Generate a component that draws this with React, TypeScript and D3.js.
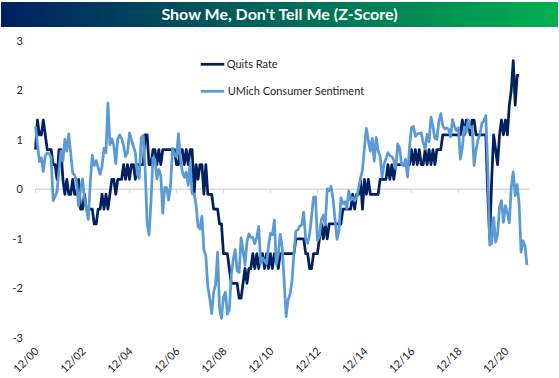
import React from 'react';
import * as d3 from 'd3';

// month index 0 = Dec 2000
const xTickLabels = ['12/00', '12/02', '12/04', '12/06', '12/08', '12/10', '12/12', '12/14', '12/16', '12/18', '12/20'];
const xTickMonths = [0, 24, 48, 72, 96, 120, 144, 168, 192, 216, 240];
const yTicks = [3, 2, 1, 0, -1, -2, -3];
const seriesNames = ['Quits Rate', 'UMich Consumer Sentiment'];

const quits = [
  0.8, 1.4, 1.1, 1.1, 1.4, 1.1, 0.8, 0.8, 0.8, 0.5, 0.5, 0.2,
  0.8, 0.8, 0.2, -0.1, 0.2, -0.1, -0.1, 0.2, -0.1, -0.1, 0.2, -0.4,
  -0.4, -0.1, -0.4, -0.4, -0.4, -0.4, -0.7, -0.7, -0.4, -0.4, -0.1, -0.4,
  -0.1, -0.4, -0.1, 0.2, 0.2, -0.1, 0.2, 0.2, 0.2, 0.5, 0.2, 0.5,
  0.2, 0.5, 0.5, 0.2, 0.5, 0.5, 0.5, 0.5, 1.1, 1.1, 0.5, 0.5,
  0.8, 0.8, 0.5, 0.8, 0.5, 0.8, 0.8, 0.8, 0.8, 0.8, 0.8, 0.8,
  0.5, 0.5, 0.8, 0.8, 0.5, 0.8, 0.5, 0.8, 0.8, -0.1, 0.5, 0.2,
  0.5, 0.5, -0.1, 0.5, -0.1, -0.1, -0.1, -0.4, -0.4, -0.4, -0.7, -0.7,
  -1.3, -1.3, -1.3, -1.6, -1.9, -1.9, -1.9, -1.9, -2.2, -2.2, -1.9, -1.6,
  -1.9, -1.6, -1.6, -1.3, -1.6, -1.3, -1.6, -1.3, -1.3, -1.6, -1.3, -1.6,
  -1.3, -1.6, -1.3, -1.3, -1.6, -1.3, -1.3, -1.3, -1.3, -1.3, -1.3, -1.3,
  -1.3, -1.0, -1.0, -1.0, -1.0, -1.0, -1.3, -1.3, -1.6, -1.6, -1.3, -1.3,
  -1.3, -1.0, -0.7, -1.0, -0.7, -1.0, -0.7, -0.7, -0.7, -0.7, -0.7, -0.7,
  -0.7, -0.4, -0.4, -0.4, -0.4, -0.4, -0.1, -0.4, -0.1, -0.1, 0.2, -0.4,
  0.2, -0.1, 0.2, -0.1, -0.1, -0.1, -0.1, -0.1, 0.2, 0.2, 0.2, 0.2,
  0.5, 0.2, 0.5, 0.2, 0.5, 0.5, 0.5, 0.5, 0.5, 0.5, 0.5, 0.5,
  0.8, 0.5, 0.8, 0.5, 0.8, 0.5, 0.5, 0.8, 0.5, 0.8, 0.5, 0.8,
  0.5, 0.8, 0.8, 0.8, 1.1, 1.1, 1.1, 1.1, 1.1, 1.1, 1.1, 1.1,
  1.1, 1.1, 1.4, 1.1, 1.4, 1.4, 1.1, 1.4, 1.4, 1.1, 1.1, 1.1,
  1.1, 1.1, 1.1, -0.1, -1.0, 0.2, 1.1, 0.8, 0.5, 1.1, 1.4, 1.1,
  1.4, 1.1, 1.7, 2.0, 2.6, 1.7, 2.3, 2.3,
];

const umich = [
  1.26,
  0.92, 0.56, 0.64, 0.36, 0.68, 0.74, 0.72, 0.64, -0.23, -0.15, -0.04, 0.39,
  0.77, 0.57, 1.01, 0.77, 1.12, 0.72, 0.33, 0.29, 0.15, -0.34, -0.02, 0.21,
  -0.18, -0.40, -0.61, 0.14, 0.69, 0.48, 0.58, 0.44, 0.30, 0.47, 0.83, 0.74,
  1.74, 0.90, 1.02, 0.88, 0.52, 1.01, 1.10, 1.03, 0.88, 0.66, 0.75, 1.14,
  1.00, 0.87, 0.74, 0.30, 0.22, 1.04, 1.09, 0.42, -0.67, -0.92, -0.25, 0.64,
  0.61, 0.21, 0.40, 0.27, -0.48, 0.04, 0.03, -0.22, 0.09, 0.83, 0.69, 0.66,
  1.12, 0.62, 0.36, 0.24, 0.35, 0.08, 0.54, -0.09, -0.09, -0.31, -0.75, -0.80,
  -0.54, -1.22, -1.34, -1.96, -2.21, -2.51, -2.08, -1.92, -1.27, -2.41, -2.61, -2.18,
  -2.08, -2.52, -2.43, -1.73, -1.41, -1.22, -1.65, -1.68, -0.98, -1.24, -1.53, -1.07,
  -0.90, -0.97, -0.97, -1.10, -0.97, -0.75, -1.49, -1.39, -1.45, -1.50, -1.15, -0.89,
  -0.92, -0.62, -1.52, -1.31, -0.91, -1.16, -1.86, -2.57, -2.24, -2.12, -1.86, -1.30,
  -0.84, -0.82, -0.74, -0.72, -0.46, -1.01, -1.09, -0.91, -0.55, -0.16, -0.15, -1.03,
  -0.95, -0.61, -0.52, -0.72, 0.01, -0.03, 0.06, -0.21, -0.62, -1.01, -0.83, -0.17,
  -0.29, -0.25, -0.39, -0.03, -0.22, -0.17, -0.23, -0.17, 0.02, 0.22, 0.39, 0.83,
  1.23, 0.99, 0.77, 1.03, 0.57, 1.05, 0.78, 0.67, 0.25, 0.50, 0.62, 0.74,
  0.68, 0.66, 0.59, 0.41, 0.92, 0.82, 0.50, 0.48, 0.61, 0.25, 0.84, 1.24,
  1.27, 1.07, 1.12, 1.13, 1.14, 0.95, 0.81, 1.11, 0.96, 1.46, 1.27, 1.03,
  1.01, 1.37, 1.53, 1.29, 1.22, 1.24, 1.21, 1.06, 1.41, 1.27, 1.18, 1.25,
  0.61, 0.84, 1.26, 1.15, 1.40, 1.24, 1.26, 0.48, 0.79, 1.00, 1.11, 1.34,
  1.38, 1.49, 0.42, -1.13, -1.09, -0.57, -1.07, -0.92, -0.36, -0.23, -0.67, -0.33,
  -0.48, -0.68, 0.04, 0.35, -0.13, 0.10, -0.29, -1.27, -1.04, -1.14, -1.53,
];

const W = 559;
const H = 378;
const DARK = '#002060';
const LIGHT = '#5B9BD5';
const FONT = 'Lato, "Liberation Sans", Arial, sans-serif';

export default function App() {
  const x = d3.scaleLinear().domain([0, 252]).range([35.5, 528.9]);
  const y = d3.scaleLinear().domain([-3, 3]).range([337.8, 40.8]);
  const line = d3
    .line<number>()
    .x((_, i) => x(i))
    .y((d) => y(d));
  const y0 = y(0);

  return (
    <svg
      width={W}
      height={H}
      style={{ position: 'absolute', left: 0, top: 0, background: '#fff' }}
      fontFamily={FONT}
    >
      <defs>
        <linearGradient id="titleGrad" x1="0" x2="1" y1="0" y2="0">
          <stop offset="0%" stopColor="#002060" />
          <stop offset="100%" stopColor="#00B050" />
        </linearGradient>
      </defs>
      <rect x={1} y={2} width={557} height={25} fill="url(#titleGrad)" />
      <text
        x={279.5}
        y={20}
        textAnchor="middle"
        fill="#fff"
        fontWeight="bold"
        fontSize={16}
      >
        Show Me, Don't Tell Me (Z-Score)
      </text>

      {/* y labels */}
      {yTicks.map((t) => (
        <text key={t} x={23} y={y(t) + 4} textAnchor="end" fontSize={11} fill="#262626">
          {t}
        </text>
      ))}

      {/* zero axis */}
      <line x1={35} x2={528.9} y1={y0} y2={y0} stroke="#d9d9d9" strokeWidth={1.5} />
      {xTickMonths.map((m) => (
        <line key={m} x1={x(m)} x2={x(m)} y1={y0} y2={y0 + 4} stroke="#d9d9d9" strokeWidth={1} />
      ))}

      {/* x labels */}
      {xTickMonths.map((m, k) => (
        <text
          key={m}
          transform={`translate(${x(m) + 4},${352}) rotate(-45)`}
          textAnchor="end"
          fontSize={11}
          fill="#262626"
        >
          {xTickLabels[k]}
        </text>
      ))}

      <path d={line(quits) || ''} fill="none" stroke={DARK} strokeWidth={2.75} strokeLinejoin="round" />
      <path d={line(umich) || ''} fill="none" stroke={LIGHT} strokeWidth={2.75} strokeLinejoin="round" />

      {/* legend */}
      <line x1={200.7} x2={224.3} y1={64.3} y2={64.3} stroke={DARK} strokeWidth={2.75} />
      <text x={226.7} y={68.2} fontSize={11} fill="#262626">
        {seriesNames[0]}
      </text>
      <line x1={200.7} x2={224.3} y1={91.3} y2={91.3} stroke={LIGHT} strokeWidth={2.75} />
      <text x={227.7} y={95.2} fontSize={11} fill="#262626">
        {seriesNames[1]}
      </text>
    </svg>
  );
}
